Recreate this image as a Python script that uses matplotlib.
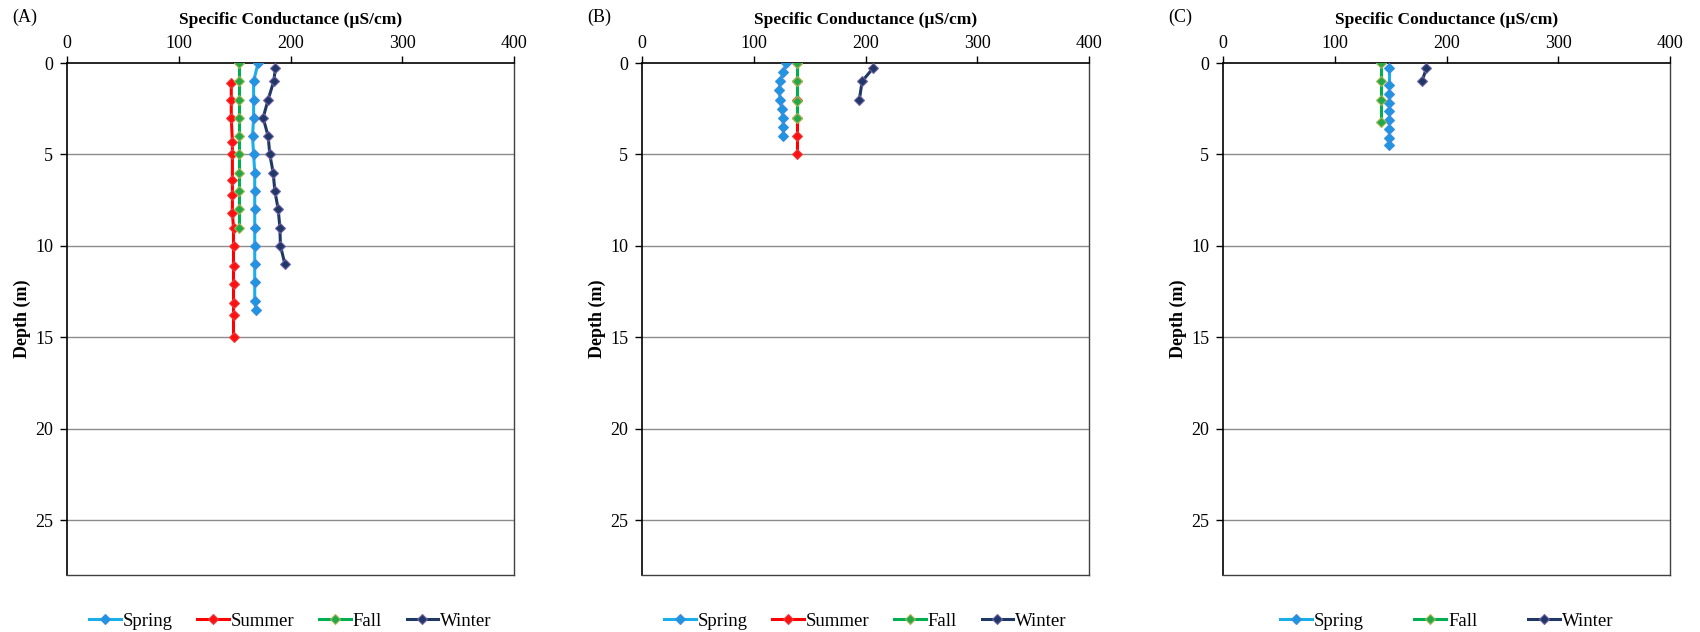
import matplotlib
matplotlib.use("Agg")
import matplotlib.pyplot as plt

plt.rcParams["font.family"] = ["Liberation Serif", "DejaVu Serif"]
plt.rcParams["font.size"] = 13

# ---- Site A ----
a_spring_depth = [0, 1, 2, 3, 4, 5, 6, 7, 8, 9, 10, 11, 12, 13, 13.5]
a_spring_cond = [171, 167, 167, 167, 166, 167, 168, 168, 168, 168, 168, 168, 168, 168, 169]
a_summer_depth = [1.1, 2.0, 3.0, 4.3, 5.0, 6.4, 7.2, 8.2, 9.0, 10.0, 11.1, 12.1, 13.1, 13.8, 15.0]
a_summer_cond = [147, 147, 147, 148, 148, 148, 148, 148, 149, 149, 149, 149, 149, 149, 149]
a_fall_depth = [0, 1, 2, 3, 4, 5, 6, 7, 8, 9]
a_fall_cond = [154, 154, 154, 154, 154, 154, 154, 154, 154, 154]
a_winter_depth = [0.3, 1, 2, 3, 4, 5, 6, 7, 8, 9, 10, 11]
a_winter_cond = [186.5, 185, 180, 175.5, 180, 181.5, 184.5, 186, 189, 190.5, 191, 195]

# ---- Site B ----
b_spring_depth = [0, 0.5, 1, 1.5, 2, 2.5, 3, 3.5, 4]
b_spring_cond = [129, 126.5, 123.5, 123, 123.5, 125, 126, 126.5, 126.5]
b_summer_depth = [0, 1, 2, 3, 4, 5]
b_summer_cond = [139, 139, 139, 139, 139, 139]
b_fall_depth = [0, 1, 2.1, 3]
b_fall_cond = [139, 139, 139, 139]
b_winter_depth = [0.3, 1, 2]
b_winter_cond = [206.5, 197, 194.5]

# ---- Site C ----
c_spring_depth = [0.25, 1.2, 1.7, 2.2, 2.6, 3.1, 3.6, 4.1, 4.5]
c_spring_cond = [148.5, 148.5, 148.5, 148.5, 148.5, 148.5, 148.5, 148.5, 148.5]
c_fall_depth = [0, 1, 2, 3.2]
c_fall_cond = [141.5, 141.5, 141.5, 141.5]
c_winter_depth = [0.3, 1]
c_winter_cond = [182, 178]

x_ticks = [0, 100, 200, 300, 400]
y_ticks = [0, 5, 10, 15, 20, 25]

styles = {
    "Spring": dict(color="#1AAFE8", mfc="#1F95E0", mec="#3C8CE0"),
    "Summer": dict(color="#FF0000", mfc="#FF1010", mec="#E84040"),
    "Fall": dict(color="#00B050", mfc="#22A84A", mec="#A8B850"),
    "Winter": dict(color="#1F3864", mfc="#1F3864", mec="#7060A8"),
}

panels = [
    ("(A)", 67, [("Spring", a_spring_cond, a_spring_depth),
                 ("Summer", a_summer_cond, a_summer_depth),
                 ("Fall", a_fall_cond, a_fall_depth),
                 ("Winter", a_winter_cond, a_winter_depth)], 1.3),
    ("(B)", 642, [("Spring", b_spring_cond, b_spring_depth),
                  ("Summer", b_summer_cond, b_summer_depth),
                  ("Fall", b_fall_cond, b_fall_depth),
                  ("Winter", b_winter_cond, b_winter_depth)], 1.3),
    ("(C)", 1223, [("Spring", c_spring_cond, c_spring_depth),
                   ("Fall", c_fall_cond, c_fall_depth),
                   ("Winter", c_winter_cond, c_winter_depth)], 2.7),
]

W, H = 1700, 632
fig = plt.figure(figsize=(W / 100, H / 100), dpi=100)
ax_w, top_px, bot_px = 447, 63, 575

for label, left_px, series, colspace in panels:
    ax = fig.add_axes([left_px / W, (H - bot_px) / H, ax_w / W, (bot_px - top_px) / H])
    for name, cond, depth in series:
        st = styles[name]
        ax.plot(cond, depth, color=st["color"], lw=2.2, marker="D", ms=5.5,
                mfc=st["mfc"], mec=st["mec"], mew=0.8, label=name, zorder=3)
    ax.set_xlim(0, 400)
    ax.set_ylim(28, 0)
    ax.set_xticks(x_ticks)
    ax.set_yticks(y_ticks)
    ax.xaxis.tick_top()
    ax.xaxis.set_label_position("top")
    ax.tick_params(axis="both", direction="out", length=5, width=1, colors="black",
                   labelsize=13, pad=3)
    ax.tick_params(axis="y", pad=5)
    ax.set_xlabel("Specific Conductance (µS/cm)", fontweight="bold", fontsize=12.5, labelpad=8)
    ax.set_ylabel("Depth (m)", fontweight="bold", fontsize=13, labelpad=3)
    for yv in y_ticks[1:]:
        ax.axhline(yv, color="#8C8C8C", lw=1, zorder=1)
    for side in ("bottom", "right"):
        ax.spines[side].set_color("#404040")
        ax.spines[side].set_linewidth(1)
    for side in ("top", "left"):
        ax.spines[side].set_color("black")
        ax.spines[side].set_linewidth(1.2)
    ax.legend(loc="center", bbox_to_anchor=(0.5, -0.09), ncol=len(series), frameon=False,
              handlelength=1.7, handletextpad=0.1, columnspacing=colspace, fontsize=13.5)
    fig.text((left_px - 55) / W, 1 - 17 / H, label, fontsize=13, va="center", ha="left")

fig.savefig("out.png", dpi=100)
